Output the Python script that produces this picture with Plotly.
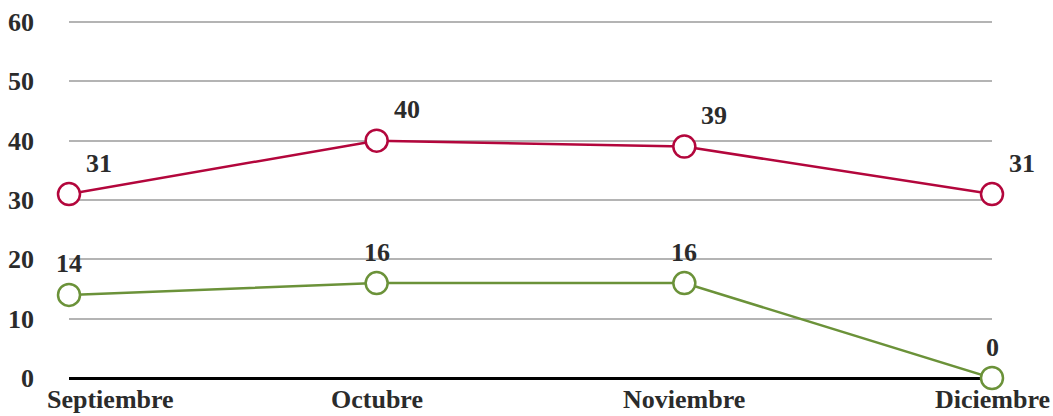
import plotly.graph_objects as go

categories = ["Septiembre", "Octubre", "Noviembre", "Diciembre"]
serie_roja = [31, 40, 39, 31]
serie_verde = [14, 16, 16, 0]
y_ticks = [0, 10, 20, 30, 40, 50, 60]

ROJO = "#b3063c"
VERDE = "#6b9239"
TXT = "#2b2b2b"
FONT = "Liberation Serif"
FS = 26

fig = go.Figure()
x_idx = list(range(len(categories)))

for vals, col in [(serie_roja, ROJO), (serie_verde, VERDE)]:
    fig.add_trace(go.Scatter(
        x=x_idx, y=vals, mode="lines+markers",
        line=dict(color=col, width=2.5),
        marker=dict(symbol="circle", size=22, color="white",
                    line=dict(color=col, width=2.5)),
        showlegend=False, cliponaxis=False, hoverinfo="skip",
    ))

annotations = []
for i, v in enumerate(serie_roja):
    annotations.append(dict(x=i, y=v, text=f"<b>{v}</b>", showarrow=False,
                            xshift=30, yshift=31, font=dict(family=FONT, size=FS, color=TXT)))
for i, v in enumerate(serie_verde):
    annotations.append(dict(x=i, y=v, text=f"<b>{v}</b>", showarrow=False,
                            xshift=0, yshift=31, font=dict(family=FONT, size=FS, color=TXT)))
for i, c in enumerate(categories):
    annotations.append(dict(x=i, y=0, yref="paper", text=f"<b>{c}</b>", showarrow=False,
                            xanchor="center", yanchor="bottom",
                            xshift=41 if i == 0 else 0, yshift=-38,
                            font=dict(family=FONT, size=FS, color=TXT)))

fig.update_layout(
    width=1053, height=416,
    margin=dict(l=69, r=61, t=18, b=38),
    paper_bgcolor="white", plot_bgcolor="white",
    annotations=annotations,
    xaxis=dict(range=[0, 3], showticklabels=False, showgrid=False, zeroline=False,
               showline=False, fixedrange=True, automargin=False),
    yaxis=dict(range=[0, 60.67], tickvals=y_ticks, ticktext=[f"<b>{t}</b>" for t in y_ticks],
               showgrid=True, gridcolor="#b4b4b4", gridwidth=1.5,
               zeroline=True, zerolinecolor="black", zerolinewidth=3,
               ticks="", ticklabelstandoff=34, automargin=False,
               tickfont=dict(family=FONT, size=FS, color=TXT), fixedrange=True),
)

fig.write_html("out.html", config={"displayModeBar": False},
               post_script="document.body.style.margin='0';document.body.style.overflow='hidden';")
